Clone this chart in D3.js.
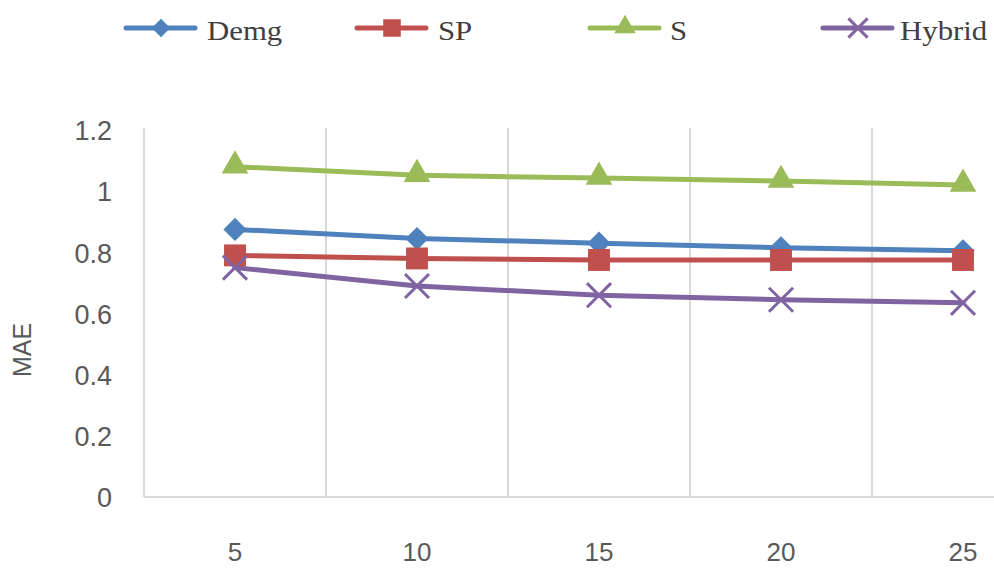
<!DOCTYPE html>
<html>
<head>
<meta charset="utf-8">
<script src="https://cdn.jsdelivr.net/npm/d3@7"></script>
<style>
  html, body { margin: 0; padding: 0; background: #fff; }
  svg { display: block; }
</style>
</head>
<body>
<div id="chart"></div>
<script>
// Chart data
var categories = [5, 10, 15, 20, 25];
var demg = [0.875, 0.845, 0.83, 0.815, 0.805];
var sp = [0.79, 0.78, 0.775, 0.775, 0.775];
var s = [1.08, 1.052, 1.043, 1.033, 1.02];
var hybrid = [0.75, 0.69, 0.66, 0.645, 0.635];
var yTicks = [0, 0.2, 0.4, 0.6, 0.8, 1, 1.2];
var seriesNames = ['Demg', 'SP', 'S', 'Hybrid'];

var width = 994;
var height = 568;

var series = [
  { name: 'Demg', values: demg, color: '#4f81bd', shape: 'diamond' },
  { name: 'SP', values: sp, color: '#c0504d', shape: 'square' },
  { name: 'S', values: s, color: '#9bbb59', shape: 'triangle' },
  { name: 'Hybrid', values: hybrid, color: '#8064a2', shape: 'times' }
];

var svg = d3.select('#chart')
  .append('svg')
  .attr('width', width)
  .attr('height', height);

// Scales (last band runs past the right edge, like the source)
var x = d3.scaleBand()
  .domain(categories)
  .range([144, 144 + 182 * categories.length]);
var y = d3.scaleLinear()
  .domain([0, 1.2])
  .range([497, 130]);

// Grid: vertical lines at band boundaries
var grid = svg.append('g').attr('class', 'grid');
grid.selectAll('line.v')
  .data(categories)
  .enter()
  .append('line')
  .attr('class', 'v')
  .attr('x1', function (d) { return x(d); })
  .attr('x2', function (d) { return x(d); })
  .attr('y1', y(1.2) - 2)
  .attr('y2', y(0))
  .attr('stroke', '#d9d9d9')
  .attr('stroke-width', 2);
grid.append('line')
  .attr('x1', x(categories[0]))
  .attr('x2', width)
  .attr('y1', y(0))
  .attr('y2', y(0))
  .attr('stroke', '#d9d9d9')
  .attr('stroke-width', 2);

// Y axis labels
var yAxis = svg.append('g')
  .attr('transform', 'translate(112,0)')
  .call(d3.axisLeft(y).tickValues(yTicks).tickSize(0).tickPadding(0)
    .tickFormat(function (d) { return String(d); }));
yAxis.select('.domain').remove();
yAxis.selectAll('text')
  .attr('fill', '#595959')
  .attr('font-family', '"Liberation Sans", Arial, sans-serif')
  .attr('font-size', 27)
  .attr('dy', '0.36em');

// X axis labels
var xAxis = svg.append('g')
  .attr('transform', 'translate(0,' + 552 + ')')
  .call(d3.axisBottom(x).tickSize(0).tickPadding(0));
xAxis.select('.domain').remove();
xAxis.selectAll('text')
  .attr('fill', '#595959')
  .attr('font-family', '"Liberation Sans Narrow", "Liberation Sans", Arial, sans-serif')
  .attr('font-size', 26)
  .attr('dy', '0.36em');

// Y axis title
svg.append('text')
  .attr('transform', 'translate(31,350) rotate(-90)')
  .attr('text-anchor', 'middle')
  .attr('fill', '#595959')
  .attr('font-family', '"Liberation Sans", Arial, sans-serif')
  .attr('font-size', 25)
  .text('MAE');

// Marker generator
function markerPath(shape, scale) {
  scale = scale || 1;
  if (shape === 'diamond') {
    return d3.symbol(d3.symbolSquare, 270 * scale * scale)();
  } else if (shape === 'square') {
    return d3.symbol(d3.symbolSquare, 480 * scale * scale)();
  } else if (shape === 'triangle') {
    return d3.symbol(d3.symbolTriangle, 310 * scale * scale)();
  }
  return d3.symbol(d3.symbolTimes, 380 * scale * scale)();
}
function markerTransform(shape, cx, cy) {
  var t = 'translate(' + cx + ',' + cy + ')';
  if (shape === 'diamond') t += ' rotate(45)';
  if (shape === 'triangle') t += ' translate(0,-1)';
  return t;
}
function drawMarker(g, d, cx, cy, scale) {
  var p = g.append('path')
    .attr('d', markerPath(d.shape, scale))
    .attr('transform', markerTransform(d.shape, cx, cy));
  if (d.shape === 'times') {
    p.attr('fill', 'none').attr('stroke', d.color).attr('stroke-width', 3);
  } else {
    p.attr('fill', d.color);
  }
}

// Lines
var line = d3.line()
  .x(function (d, i) { return x(categories[i]) + x.bandwidth() / 2; })
  .y(function (d) { return y(d); });

var plot = svg.append('g').attr('class', 'series');
series.forEach(function (d) {
  plot.append('path')
    .attr('d', line(d.values))
    .attr('fill', 'none')
    .attr('stroke', d.color)
    .attr('stroke-width', 5)
    .attr('stroke-linejoin', 'round')
    .attr('stroke-linecap', 'round');
});
series.forEach(function (d) {
  var g = plot.append('g');
  d.values.forEach(function (v, i) {
    drawMarker(g, d, x(categories[i]) + x.bandwidth() / 2, y(v), 1);
  });
});

// Legend
var legendX = [126, 357, 590, 823];
var legendGap = [81, 81, 80, 77];
var legend = svg.append('g').attr('class', 'legend');
series.forEach(function (d, i) {
  var lx = legendX[i];
  var g = legend.append('g');
  g.append('line')
    .attr('x1', lx)
    .attr('x2', lx + 69)
    .attr('y1', 28)
    .attr('y2', 28)
    .attr('stroke', d.color)
    .attr('stroke-width', 5)
    .attr('stroke-linecap', 'round');
  drawMarker(g, d, lx + 35, 28, 0.8);
  g.append('text')
    .attr('transform', 'translate(' + (lx + legendGap[i]) + ',40) scale(1.1,1)')
    .attr('fill', '#404040')
    .attr('font-family', '"Liberation Serif", "Times New Roman", serif')
    .attr('font-size', 28)
    .text(seriesNames[i]);
});
</script>
</body>
</html>
